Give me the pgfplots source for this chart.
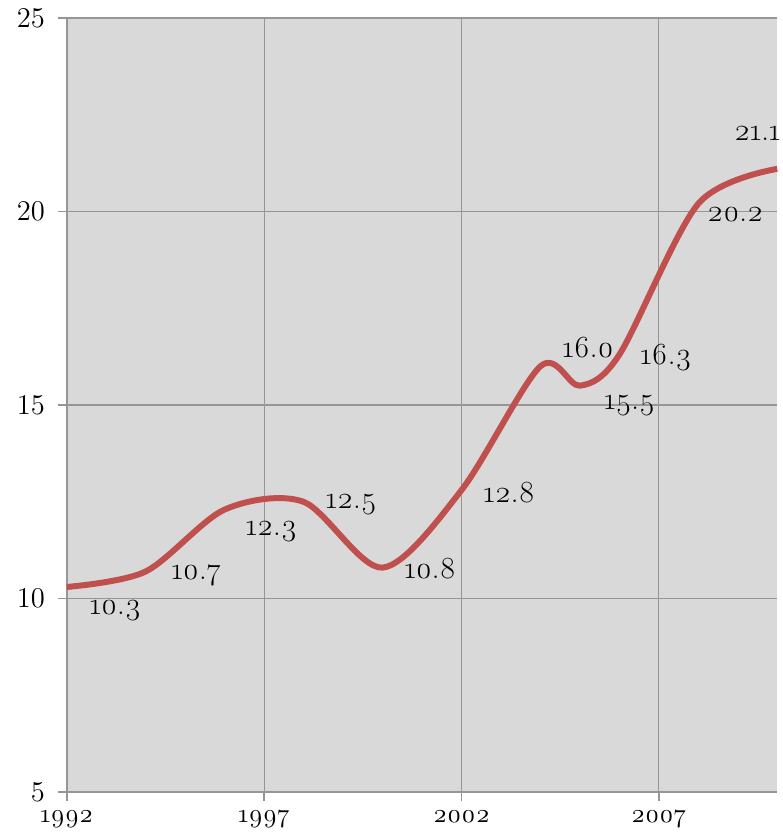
\documentclass[border=0pt]{standalone}
\usepackage{fontspec}
\setmainfont{Latin Modern Roman}[Numbers=OldStyle]
\usepackage{pgfplots}
\usepackage{pgfplotstable}
\pgfplotsset{compat=1.18}
\definecolor{linered}{RGB}{192,80,77}
\definecolor{gridgray}{RGB}{150,150,150}

% year, value, label text, label offset (bp)
\pgfplotstableread{
year val lbl dx dy
1992 10.3 10.3 24.5 -12
1994 10.7 10.7 25.5 -2
1996 12.3 12.3 23.5 -11
1998 12.5 12.5 24 -1.5
2000 10.8 10.8 24 -0.5
2002 12.8 12.8 24 -1
2004 16.0 16.0 24 9.5
2005 15.5 15.5 25 -10
2006 16.3 16.3 23.5 -1.2
2008 20.2 20.2 18.5 -5.5
2010 21.1 21.1 -10 18
}\datatable

\begin{document}
\begin{tikzpicture}
\begin{axis}[
    scale only axis,
    width=356.5bp, height=388.5bp,
    xmin=1992, xmax=2010,
    ymin=5, ymax=25,
    xtick={1992,1997,2002,2007},
    ytick={5,10,15,20,25},
    axis lines=left,
    axis line style={gridgray, line width=0.75bp, -},
    grid=major,
    grid style={gridgray, line width=0.6bp},
    tick style={gridgray, line width=0.75bp},
    tick align=outside,
    major tick length=4.5bp,
    axis background/.style={fill=black!15},
    xticklabel style={/pgf/number format/1000 sep={},
        /pgf/number format/assume math mode=true,
        font=\fontsize{13}{15}\selectfont, yshift=-3.5bp, inner ysep=1bp},
    yticklabel style={font=\fontsize{14}{16}\selectfont, xshift=-3bp},
    clip=false,
]
\addplot[linered, line width=3bp, smooth] table[x=year, y=val] {\datatable};
\addplot[draw=none, mark=none,
    nodes near coords,
    point meta=explicit symbolic,
    visualization depends on={\thisrow{dx}\as\dx},
    visualization depends on={\thisrow{dy}\as\dy},
    every node near coord/.style={anchor=center, xshift=\dx bp, yshift=\dy bp,
        font=\fontsize{15.5}{18}\selectfont, text=black},
] table[x=year, y=val, meta=lbl] {\datatable};
\end{axis}
\pgfresetboundingbox
\path ([xshift=-33.5bp, yshift=-20bp]current axis.south west)
    rectangle ([xshift=2.5bp, yshift=9bp]current axis.north east);
\end{tikzpicture}
\end{document}
